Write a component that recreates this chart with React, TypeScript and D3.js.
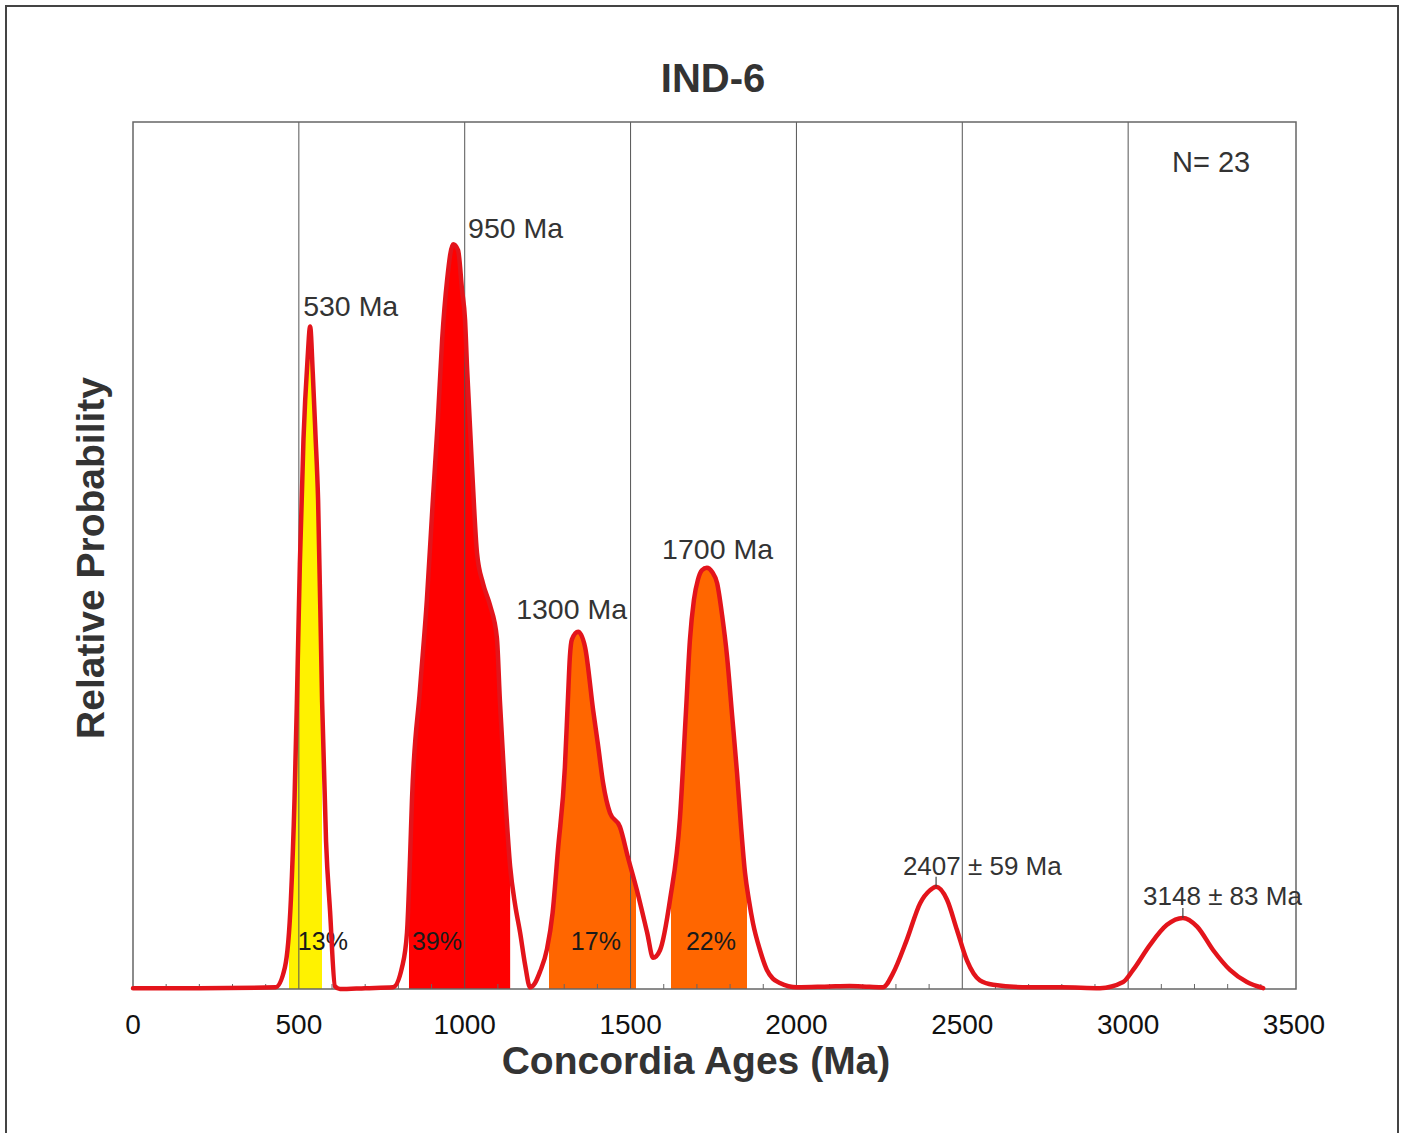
import React from "react";
import * as d3 from "d3";

// Probability density curve (age in Ma, relative probability in % of the plot height)
const AGES = [
  0, 200, 430, 458, 476, 487, 494, 503, 514, 526, 534, 542, 550, 558, 570, 582, 594, 609, 624,
  700, 784, 811, 826, 835, 841, 865, 886, 904, 919, 932, 947, 965, 980, 992,
  1001, 1007, 1022, 1037, 1055, 1076, 1097, 1106, 1121, 1137, 1152, 1167, 1182,
  1197, 1212, 1227, 1248, 1265, 1281, 1302, 1311, 1317, 1323, 1342, 1363, 1387,
  1402, 1417, 1438, 1468, 1492, 1519, 1550, 1568, 1589, 1619, 1649, 1667, 1679,
  1691, 1703, 1715, 1730, 1746, 1761, 1776, 1791, 1806, 1821, 1833, 1845, 1857,
  1869, 1890, 1911, 1929, 1950, 2002, 2100, 2160, 2220, 2261, 2291, 2333, 2373,
  2403, 2421, 2454, 2484, 2514, 2553, 2593, 2700, 2800, 2915, 2985, 3015, 3066,
  3117, 3165, 3208, 3256, 3307, 3358, 3407,
];
const PROB = [
  0.1, 0.1, 0.2, 2.5, 10.3, 22.0, 33.0, 49.0, 63.5, 72.5, 76.4, 71.0, 64.0, 56.4, 33.3, 17.0, 9.0, 0.3, 0.0,
  0.1, 0.2, 2.5, 6.5, 14.9, 21.8, 34.5, 44.9, 56.4, 65.6, 74.9, 81.8, 85.9, 85.2, 80.6,
  77.2, 71.7, 60.2, 50.3, 46.8, 44.3, 40.5, 33.3, 23.0, 14.1, 9.7, 6.5, 2.8,
  0.2, 0.7, 2.0, 4.6, 8.8, 16.0, 25.6, 33.3, 38.3, 40.3, 41.2, 39.4, 32.2,
  28.1, 23.8, 20.3, 18.7, 15.2, 11.4, 6.5, 3.6, 4.5, 10.3, 19.8, 32.0, 40.3,
  44.9, 47.2, 48.3, 48.6, 48.1, 46.8, 43.1, 38.3, 31.6, 24.9, 18.7, 13.4, 10.2,
  7.6, 4.5, 2.2, 1.2, 0.7, 0.2, 0.3, 0.35, 0.25, 0.2, 1.8, 5.7, 9.9,
  11.4, 11.8, 10.3, 6.8, 3.3, 1.0, 0.5, 0.2, 0.2, 0.1, 0.8, 2.2, 5.1,
  7.4, 8.2, 7.2, 4.5, 2.2, 0.8, 0.1,
];

// Shaded age populations
const FILL_RANGES: [number, number][] = [
  [470, 570],
  [832, 1137],
  [1254, 1516],
  [1622, 1851],
];
const FILL_COLORS = ["#FFF200", "#FF0000", "#FF6600", "#FF6600"];
const FILL_PERCENTS = ["13%", "39%", "17%", "22%"];

const PEAK_LABELS = ["530 Ma", "950 Ma", "1300 Ma", "1700 Ma", "2407 ± 59 Ma", "3148 ± 83 Ma"];

const X_TICKS = [0, 500, 1000, 1500, 2000, 2500, 3000, 3500];
const GRID_AGES = [500, 1000, 1500, 2000, 2500, 3000];

const TITLE = "IND-6";
const N_TEXT = "N= 23";

const W = 1407;
const H = 1133;
const FONT = "'Liberation Sans', Arial, sans-serif";

export default function App() {
  const left = 133;
  const right = 1296;
  const top = 122;
  const bottom = 989;

  const x = d3.scaleLinear().domain([0, 3500]).range([left, 1294]);
  const y = d3.scaleLinear().domain([0, 100]).range([bottom, top]);

  const pts = AGES.map((a, i) => [a, PROB[i]] as [number, number]);

  const line = d3
    .line<[number, number]>()
    .x((d) => x(d[0]))
    .y((d) => y(d[1]))
    .curve(d3.curveMonotoneX);

  const area = d3
    .area<[number, number]>()
    .x((d) => x(d[0]))
    .y0(y(0))
    .y1((d) => y(Math.max(0, d[1])))
    .curve(d3.curveMonotoneX);

  const minorTicks = d3.range(100, 3500, 100).filter((t) => t % 500 !== 0);

  // label anchors: [age, probability]
  const peakLabelPos: [number, number][] = [
    [513, 77.6],
    [1010, 86.6],
    [1155, 42.7],
    [1595, 49.6],
    [2321, 13.1],
    [3045, 9.7],
  ];
  const percentPos = [497, 841, 1320, 1667];

  // small leader marks above the two older peaks
  const leaderPeaks: [number, number][] = [
    [2421, 11.8],
    [3165, 8.2],
  ];

  return (
    <svg
      width={W}
      height={H}
      style={{ position: "absolute", left: 0, top: 0, background: "#fff" }}
      fontFamily={FONT}
    >
      <rect x={0} y={0} width={W} height={H} fill="#fff" />
      <rect x={6} y={6} width={1392} height={1160} fill="none" stroke="#444" strokeWidth={2} />

      <defs>
        {FILL_RANGES.map((r, i) => (
          <clipPath id={`band-${i}`} key={i}>
            <rect x={x(r[0])} y={top} width={x(r[1]) - x(r[0])} height={bottom - top} />
          </clipPath>
        ))}
      </defs>

      {/* shaded populations */}
      {FILL_RANGES.map((r, i) => (
        <path key={i} d={area(pts) || ""} fill={FILL_COLORS[i]} clipPath={`url(#band-${i})`} />
      ))}

      {/* vertical grid */}
      {GRID_AGES.map((g) => (
        <line key={g} x1={x(g)} x2={x(g)} y1={top} y2={bottom} stroke="#555" strokeWidth={1} />
      ))}

      {/* minor ticks */}
      {minorTicks.map((t) => (
        <line key={t} x1={x(t)} x2={x(t)} y1={bottom} y2={bottom - 5} stroke="#666" strokeWidth={1} />
      ))}

      {/* frame */}
      <rect x={left} y={top} width={right - left} height={bottom - top} fill="none" stroke="#666" strokeWidth={1.5} />

      {/* percentages */}
      {FILL_PERCENTS.map((p, i) => (
        <text key={p} x={x(percentPos[i])} y={y(4.5)} fontSize={25} fill="#1a1a1a">
          {p}
        </text>
      ))}

      {/* density curve */}
      <path d={line(pts) || ""} fill="none" stroke="#E3141B" strokeWidth={4.5} strokeLinejoin="round" strokeLinecap="round" />

      {leaderPeaks.map((p, i) => (
        <line key={i} x1={x(p[0])} x2={x(p[0])} y1={y(p[1])} y2={y(p[1]) - 10} stroke="#444" strokeWidth={1.2} />
      ))}

      {/* peak labels */}
      {PEAK_LABELS.map((l, i) => (
        <text
          key={l}
          x={x(peakLabelPos[i][0])}
          y={y(peakLabelPos[i][1])}
          fontSize={i >= 4 ? 26 : 28.5}
          fill="#333"
        >
          {l}
        </text>
      ))}

      <text x={1172} y={172} fontSize={29} fill="#333">
        {N_TEXT}
      </text>

      {/* x tick labels */}
      {X_TICKS.map((t) => (
        <text key={t} x={x(t)} y={1034} fontSize={28} textAnchor="middle" fill="#111">
          {t}
        </text>
      ))}

      <text x={713} y={92} fontSize={40} fontWeight="bold" textAnchor="middle" fill="#333">
        {TITLE}
      </text>

      <text x={696} y={1074} fontSize={39} fontWeight="bold" textAnchor="middle" fill="#333">
        Concordia Ages (Ma)
      </text>

      <text
        transform={`translate(104, 558) rotate(-90)`}
        fontSize={39}
        fontWeight="bold"
        textAnchor="middle"
        fill="#333"
      >
        Relative Probability
      </text>
    </svg>
  );
}
